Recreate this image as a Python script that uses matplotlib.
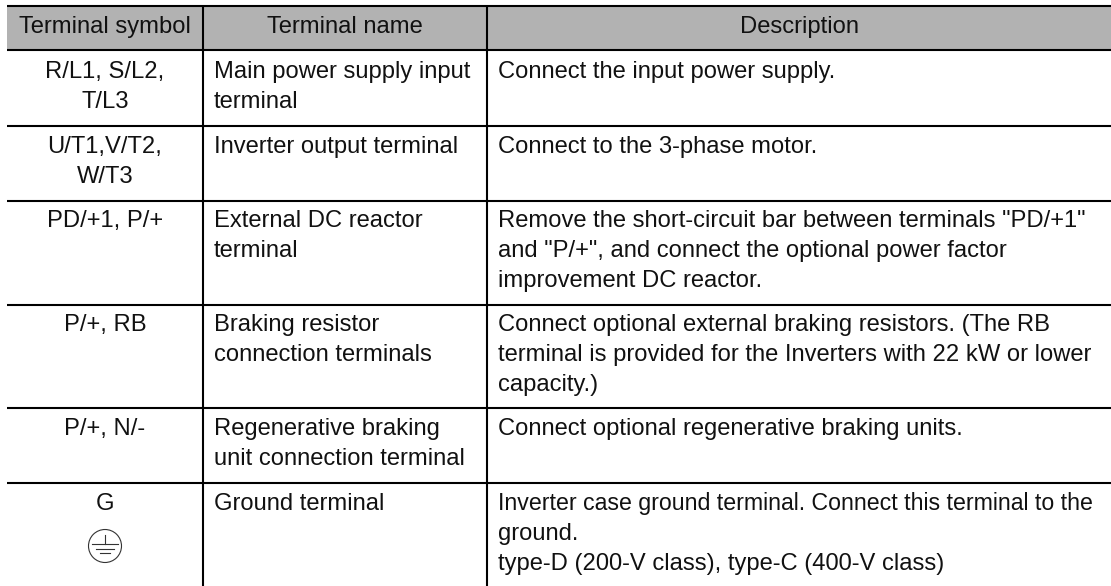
import matplotlib

matplotlib.use("Agg")
import matplotlib.pyplot as plt
from matplotlib.patches import Circle, Rectangle

WIDTH = 1111
HEIGHT = 586

# table layout, pixels
col_edges = [7, 203, 487, 1111]
row_edges = [6, 50, 126, 201, 305, 408, 483, 586]
header_baseline = 33
row_baselines = [78, 153, 227, 331, 435, 510]
line_gap = 30

headers = ["Terminal symbol", "Terminal name", "Description"]
symbols = [
    "R/L1, S/L2,\nT/L3",
    "U/T1,V/T2,\nW/T3",
    "PD/+1, P/+",
    "P/+, RB",
    "P/+, N/-",
    "G",
]
names = [
    "Main power supply input\nterminal",
    "Inverter output terminal",
    "External DC reactor\nterminal",
    "Braking resistor\nconnection terminals",
    "Regenerative braking\nunit connection terminal",
    "Ground terminal",
]
descriptions = [
    "Connect the input power supply.",
    "Connect to the 3-phase motor.",
    'Remove the short-circuit bar between terminals "PD/+1"\nand "P/+", and connect the optional power factor\nimprovement DC reactor.',
    "Connect optional external braking resistors. (The RB\nterminal is provided for the Inverters with 22 kW or lower\ncapacity.)",
    "Connect optional regenerative braking units.",
    "Inverter case ground terminal. Connect this terminal to the\nground.\ntype-D (200-V class), type-C (400-V class)",
]

plt.rcParams["font.family"] = ["Liberation Sans", "DejaVu Sans"]
fs = 17.1
tight_fs = 16.7  # this line is set tighter in the original
tight_line = descriptions[5].split("\n")[0]
ink = "#111111"


def draw_cell(ax, x, baseline, s, ha):
    for j, line in enumerate(s.split("\n")):
        size = tight_fs if line == tight_line else fs
        ax.text(x, baseline + j * line_gap, line, ha=ha, va="baseline", fontsize=size, color=ink)


fig = plt.figure(figsize=(WIDTH / 100, HEIGHT / 100), dpi=100)
ax = fig.add_axes([0, 0, 1, 1])
ax.set_xlim(0, WIDTH)
ax.set_ylim(HEIGHT, 0)
ax.axis("off")

ax.add_patch(Rectangle((col_edges[0], row_edges[0]), col_edges[-1] - col_edges[0],
                       row_edges[1] - row_edges[0], color="#b2b2b2", lw=0))

for y in row_edges[:-1]:
    ax.plot([col_edges[0], col_edges[-1]], [y, y], color="black", lw=1.5, solid_capstyle="butt")
for x in col_edges[1:3]:
    ax.plot([x, x], [row_edges[0], row_edges[-1]], color="black", lw=1.5, solid_capstyle="butt")

centers = [(col_edges[i] + col_edges[i + 1]) / 2 for i in range(3)]
for x, s in zip(centers, headers):
    draw_cell(ax, x, header_baseline, s, "center")

for i in range(len(symbols)):
    draw_cell(ax, centers[0], row_baselines[i], symbols[i], "center")
    draw_cell(ax, col_edges[1] + 11, row_baselines[i], names[i], "left")
    draw_cell(ax, col_edges[2] + 11, row_baselines[i], descriptions[i], "left")

# ground symbol
gx, gy = 105, 546
ax.add_patch(Circle((gx, gy), 16.5, fill=False, ec="#333333", lw=0.8))
ax.plot([gx, gx], [gy - 11, gy - 2.5], color="#333333", lw=0.8)
for half, y in [(13, gy - 2.5), (9, gy + 2.5), (5, gy + 7)]:
    ax.plot([gx - half, gx + half], [y, y], color="#333333", lw=0.8)

fig.savefig("out.png", dpi=100)
